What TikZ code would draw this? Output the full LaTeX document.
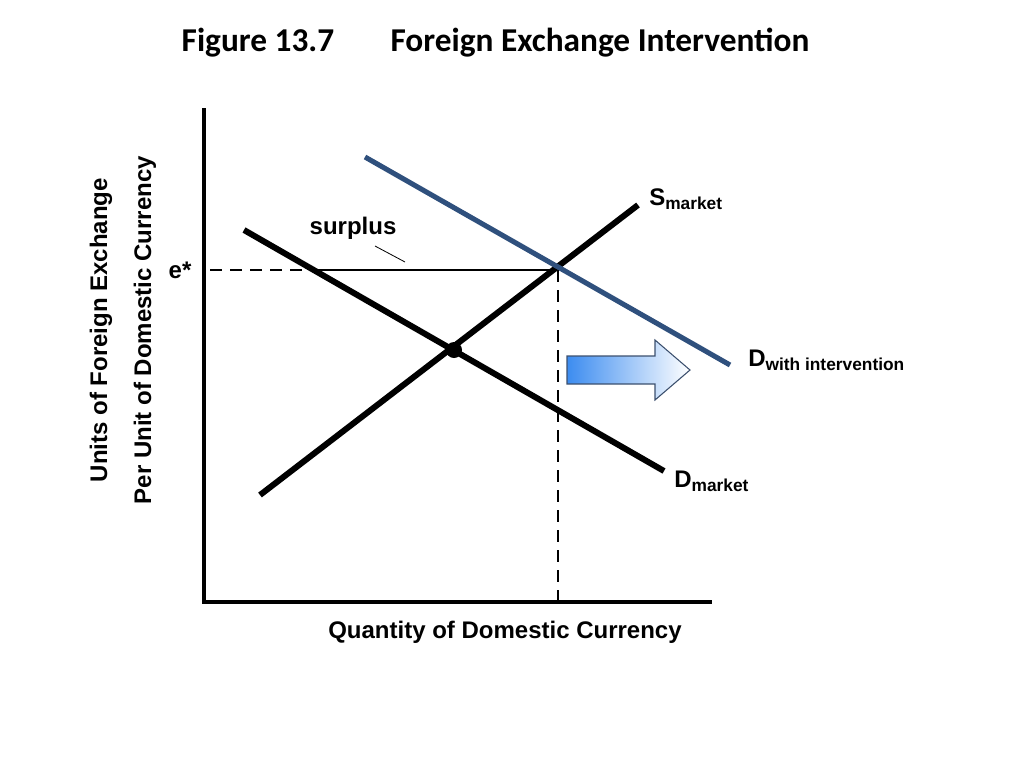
\documentclass[tikz,border=0pt]{standalone}
\usepackage{fontspec}
\setmainfont{Liberation Sans}
\newfontfamily\titlefont{Carlito}
\begin{document}
\begin{tikzpicture}[x=0.75pt,y=-0.75pt,
  curve/.style={line width=4.5pt},
  lbl/.style={font=\bfseries\fontsize{18}{21}\selectfont,inner sep=0pt}]
\useasboundingbox (0,0) rectangle (1024,768);
\node[font=\titlefont\bfseries\fontsize{25}{30}\selectfont] (t1) at (258,43) {Figure 13.7};
\node[font=\titlefont\bfseries\fontsize{25}{30}\selectfont] (t2) at (600,43) {Foreign Exchange Intervention};
% axes
\coordinate (o) at (204,602);
\coordinate (ytop) at (204,108);
\coordinate (xend) at (712,602);
\draw[line width=2.3pt] (ytop) -- (o) -- (xend);
% curves
\coordinate (s1) at (260,495); \coordinate (s2) at (638,205);
\coordinate (d1) at (244,230); \coordinate (d2) at (664,471);
\coordinate (b1) at (365,157); \coordinate (b2) at (730,365);
\draw[curve] (s1) -- (s2);
\draw[curve] (d1) -- (d2);
\draw[line width=3.8pt,color={rgb,255:red,47;green,80;blue,125}] (b1) -- (b2);
\fill (454,350) circle (8);
% e* lines
\coordinate (e0) at (210,270); \coordinate (e1) at (312,270); \coordinate (e2) at (557,270);
\coordinate (q0) at (558,602);
\draw[line width=1.8pt,dash pattern=on 9pt off 6pt] (e0) -- (e1);
\draw[line width=1.5pt] (e1) -- (e2);
\draw[line width=1.8pt,dash pattern=on 9pt off 6pt] (558,270) -- (q0);
\node[lbl] (estar) at (180,270) {e*};
\node[lbl] (sur) at (353,228) {surplus};
\draw[line width=0.6pt] (375,246) -- (405,262);
% arrow
\shade[left color={rgb,255:red,60;green,140;blue,240},right color=white,draw={rgb,255:red,60;green,80;blue,110},line width=0.8pt]
  (567,356) -- (655,356) -- (655,340) -- (690,370) -- (655,400) -- (655,384) -- (567,384) -- cycle;
% labels
\node[lbl,anchor=west] (sl) at (649,199) {S\raisebox{-3pt}{\fontsize{13}{15}\selectfont market}};
\node[lbl,anchor=west] (dw) at (748,360) {D\raisebox{-3pt}{\fontsize{13}{15}\selectfont with intervention}};
\node[lbl,anchor=west] (dm) at (674,481) {D\raisebox{-3pt}{\fontsize{13}{15}\selectfont market}};
\node[lbl,rotate=90] (ya) at (101,330) {Units of Foreign Exchange};
\node[lbl,rotate=90] (yb) at (145,330) {Per Unit of Domestic Currency};
\node[lbl] (xa) at (505,632) {Quantity of Domestic Currency};
\end{tikzpicture}
\end{document}
